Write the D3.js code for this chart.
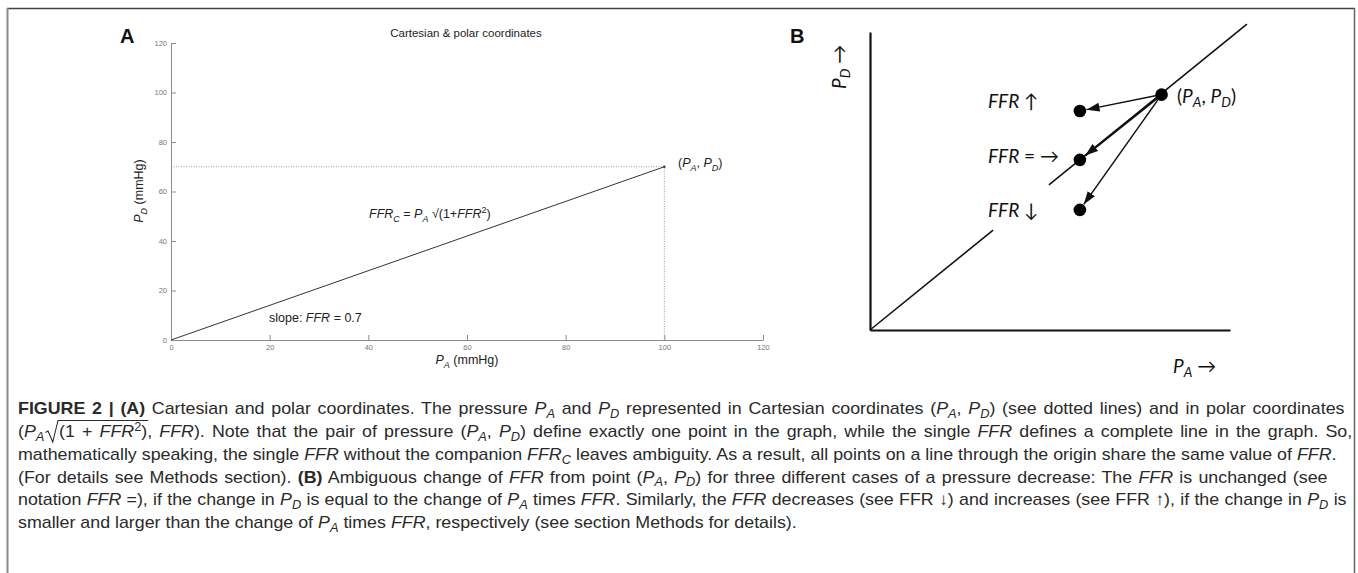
<!DOCTYPE html>
<html>
<head>
<meta charset="utf-8">
<script src="https://cdn.jsdelivr.net/npm/d3@7"></script>
<style>
  body { margin: 0; background: #fff; }
  svg { display: block; }
  text { white-space: pre; }
</style>
</head>
<body>
<svg id="fig" width="1358" height="573"></svg>
<script>
// ---- Panel A: Cartesian & polar coordinates ----
const axisTicksA = [0, 20, 40, 60, 80, 100, 120];
const pressureA = 100;          // P_A (mmHg)
const ffrValue = 0.7;           // slope of the line through the origin

// ---- Panel B: schematic change of FFR (arbitrary units) ----
const bStart = { pa: 81, pd: 79 };                 // point (P_A, P_D)
const bCaseLabels = ["*FFR* ↑", "*FFR* = →", "*FFR* ↓"];
const bCasePa = [58.3, 58.3, 58.3];
const bCasePd = [73.5, 57.1, 40.3];
const bCaseWidth = [1.5, 2.2, 1.5];
const bIsoRatio = 0.98;                            // constant-FFR line
const bIsoSegments = [[0, 34.2], [49.7, 104.7]];   // drawn pieces of that line

// ---- Caption lines ----
const captionLines = [
  "**FIGURE 2 | (A)** Cartesian and polar coordinates. The pressure *P*_{A} and *P*_{D} represented in Cartesian coordinates (*P*_{A}, *P*_{D}) (see dotted lines) and in polar coordinates",
  "(*P*_{A}@(1 + *FFR*^{2})~, *FFR*). Note that the pair of pressure (*P*_{A}, *P*_{D}) define exactly one point in the graph, while the single *FFR* defines a complete line in the graph. So,",
  "mathematically speaking, the single *FFR* without the companion *FFR*_{C} leaves ambiguity. As a result, all points on a line through the origin share the same value of *FFR*.",
  "(For details see Methods section). **(B)** Ambiguous change of *FFR* from point (*P*_{A}, *P*_{D}) for three different cases of a pressure decrease: The *FFR* is unchanged (see",
  "notation *FFR* =), if the change in *P*_{D} is equal to the change of *P*_{A} times *FFR*. Similarly, the *FFR* decreases (see FFR ↓) and increases (see FFR ↑), if the change in *P*_{D} is",
  "smaller and larger than the change of *P*_{A} times *FFR*, respectively (see section Methods for details)."
];
const captionRightEdges = [1345, 1338, 1337, 1328, 1347, 797];

const svg = d3.select("#fig");
const SANS = "'Liberation Sans', Arial, sans-serif";
const CAL = "Lato, 'Open Sans', sans-serif";

// Append a text element built from a small markup:
// **bold**, *italic*, _{sub}, ^{sup}, @ = radical start, ~ = radical end
function richText(parent, str, o) {
  const text = parent.append("text")
    .attr("font-family", o.family)
    .attr("font-size", o.size)
    .attr("fill", o.fill || "#222");
  const parts = str.split(/(\*\*[^*]+\*\*|\*[^*]+\*|_\{[^}]+\}|\^\{[^}]+\}|@|~)/).filter(p => p !== "");
  let shift = 0, count = 0, pendingDx = 0, radStart = null, radEnd = null, spaces = 0;
  parts.forEach(p => {
    if (p === "@") { radStart = count; pendingDx = o.radGap || 0; return; }
    if (p === "~") { radEnd = count - 1; return; }
    const s = { t: p, b: false, i: false, lvl: 0 };
    if (p.startsWith("**")) { s.t = p.slice(2, -2); s.b = true; }
    else if (p.startsWith("*")) { s.t = p.slice(1, -1); s.i = true; }
    else if (p.startsWith("_{")) { s.t = p.slice(2, -1); s.i = true; s.lvl = 1; }
    else if (p.startsWith("^{")) { s.t = p.slice(2, -1); s.lvl = -1; }
    const ts = text.append("tspan").text(s.t);
    if (s.b) ts.attr("font-weight", "bold");
    if (s.i) ts.attr("font-style", "italic");
    const target = s.lvl === 1 ? o.subDy : s.lvl === -1 ? -o.supDy : 0;
    if (target !== shift) ts.attr("dy", target - shift);
    shift = target;
    if (s.lvl !== 0) ts.attr("font-size", o.size * 0.72);
    if (pendingDx) { ts.attr("dx", pendingDx); pendingDx = 0; }
    count += s.t.length;
    spaces += (s.t.match(/ /g) || []).length;
  });
  return { text, radStart, radEnd, spaces };
}

// ---- Frame ----
svg.append("line").attr("x1", 7).attr("x2", 1355).attr("y1", 8.5).attr("y2", 8.5)
  .attr("stroke", "#444").attr("stroke-width", 1.3);
svg.append("line").attr("x1", 7.5).attr("x2", 7.5).attr("y1", 8).attr("y2", 573)
  .attr("stroke", "#8a8a8a").attr("stroke-width", 2);
svg.append("line").attr("x1", 1354.5).attr("x2", 1354.5).attr("y1", 8).attr("y2", 573)
  .attr("stroke", "#666").attr("stroke-width", 1.5);

// ================= Panel A =================
const xA = d3.scaleLinear().domain([0, 120]).range([171, 763]);
const yA = d3.scaleLinear().domain([0, 120]).range([340, 43]);
const gA = svg.append("g");

const styleAxis = g => {
  g.attr("font-family", SANS).attr("font-size", 7.5);
  g.select(".domain").attr("stroke", "#8c8c8c");
  g.selectAll(".tick line").attr("stroke", "#8c8c8c");
  g.selectAll(".tick text").attr("fill", "#777");
};
gA.append("g").attr("transform", `translate(0,${yA(0)})`)
  .call(d3.axisBottom(xA).tickValues(axisTicksA).tickSizeInner(-5).tickSizeOuter(0).tickPadding(5))
  .call(styleAxis);
gA.append("g").attr("transform", `translate(${xA(0)},0)`)
  .call(d3.axisLeft(yA).tickValues(axisTicksA).tickSizeInner(-5).tickSizeOuter(0).tickPadding(4))
  .call(styleAxis);

const pressureD = ffrValue * pressureA;
// dotted Cartesian guides
gA.append("path")
  .attr("d", `M${xA(0)},${yA(pressureD)}H${xA(pressureA)}V${yA(0)}`)
  .attr("fill", "none").attr("stroke", "#999").attr("stroke-width", 1)
  .attr("stroke-dasharray", "1,1.5");
// line through origin with slope FFR
gA.append("path")
  .datum([[0, 0], [pressureA, pressureD]])
  .attr("d", d3.line().x(d => xA(d[0])).y(d => yA(d[1])))
  .attr("fill", "none").attr("stroke", "#333").attr("stroke-width", 1);
gA.append("circle").attr("cx", xA(pressureA)).attr("cy", yA(pressureD)).attr("r", 1.2).attr("fill", "#333");

gA.append("text").attr("x", 120).attr("y", 43).attr("font-family", SANS)
  .attr("font-weight", "bold").attr("font-size", 20).attr("fill", "#111").text("A");
gA.append("text").attr("x", 466).attr("y", 37).attr("text-anchor", "middle")
  .attr("font-family", SANS).attr("font-size", 11.5).attr("fill", "#222")
  .text("Cartesian & polar coordinates");

const aOpts = { family: SANS, size: 12.5, subDy: 4, supDy: 5, fill: "#222" };
richText(gA, "*P*_{A} (mmHg)", aOpts).text
  .attr("x", 467).attr("y", 364).attr("text-anchor", "middle");
richText(gA, "*P*_{D} (mmHg)", aOpts).text
  .attr("text-anchor", "middle").attr("transform", "translate(143,191) rotate(-90)");
richText(gA, "(*P*_{A}, *P*_{D})", aOpts).text.attr("x", 678).attr("y", 167);
richText(gA, "*FFR*_{C} = *P*_{A} √(1+*FFR*^{2})", aOpts).text.attr("x", 369).attr("y", 218);
richText(gA, `slope: *FFR* = ${ffrValue}`, aOpts).text.attr("x", 269).attr("y", 322);

// ================= Panel B =================
const xB = d3.scaleLinear().domain([0, 100]).range([870, 1230]);
const yB = d3.scaleLinear().domain([0, 100]).range([330, 32]);
const gB = svg.append("g");

gB.append("g").attr("transform", `translate(0,${yB(0)})`)
  .call(d3.axisBottom(xB).ticks(0).tickSizeOuter(0))
  .call(g => g.select(".domain").attr("stroke", "#111").attr("stroke-width", 2.2));
gB.append("g").attr("transform", `translate(${xB(0)},0)`)
  .call(d3.axisLeft(yB).ticks(0).tickSizeOuter(0))
  .call(g => g.select(".domain").attr("stroke", "#111").attr("stroke-width", 2.2));

// constant-FFR line through the origin
const isoLine = d3.line().x(d => xB(d)).y(d => yB(d * bIsoRatio));
gB.selectAll("path.iso").data(bIsoSegments).join("path").attr("class", "iso")
  .attr("d", d => isoLine(d)).attr("fill", "none")
  .attr("stroke", "#111").attr("stroke-width", 1.6);

// arrowhead
svg.append("defs").append("marker")
  .attr("id", "head").attr("markerUnits", "userSpaceOnUse")
  .attr("markerWidth", 14).attr("markerHeight", 10)
  .attr("refX", 13).attr("refY", 4.5).attr("orient", "auto")
  .append("path").attr("d", "M0,0L13,4.5L0,9Z").attr("fill", "#111");

const dotR = 6.3;
const sx = xB(bStart.pa), sy = yB(bStart.pd);
bCasePa.forEach((pa, i) => {
  const tx = xB(pa), ty = yB(bCasePd[i]);
  const dx = tx - sx, dy = ty - sy, len = Math.hypot(dx, dy);
  const ex = tx - dx / len * (dotR + 0.5), ey = ty - dy / len * (dotR + 0.5);
  gB.append("line").attr("x1", sx).attr("y1", sy).attr("x2", ex).attr("y2", ey)
    .attr("stroke", "#111").attr("stroke-width", bCaseWidth[i])
    .attr("marker-end", "url(#head)");
});
gB.selectAll("circle.pt").data([[bStart.pa, bStart.pd]].concat(bCasePa.map((p, i) => [p, bCasePd[i]])))
  .join("circle").attr("class", "pt")
  .attr("cx", d => xB(d[0])).attr("cy", d => yB(d[1])).attr("r", dotR).attr("fill", "#000");

const bOpts = { family: CAL, size: 19, subDy: 4, supDy: 6, fill: "#111" };
const caseBaselines = [108, 163, 217];
bCaseLabels.forEach((lab, i) => {
  richText(gB, lab, bOpts).text.attr("x", 988).attr("y", caseBaselines[i]);
});
richText(gB, "(*P*_{A}, *P*_{D})", bOpts).text.attr("x", 1177).attr("y", 103);
richText(gB, "*P*_{A} →", bOpts).text.attr("x", 1173).attr("y", 373);
richText(gB, "*P*_{D} →", bOpts).text.attr("transform", "translate(846,89) rotate(-90)");
gB.append("text").attr("x", 790).attr("y", 43).attr("font-family", SANS)
  .attr("font-weight", "bold").attr("font-size", 20).attr("fill", "#111").text("B");

// ================= Caption =================
// Condensed look: one horizontal squeeze for all lines (set by the last,
// unjustified line); the other lines are justified with word spacing.
const capBaselines = [414, 437, 460, 482.5, 505, 528];
const capOpts = { family: SANS, size: 17, subDy: 3.5, supDy: 6, fill: "#2a2a2a", radGap: 14 };
const capLeft = 18;
const capRows = captionLines.map((line, i) => {
  const g = svg.append("g");
  const r = richText(g, line, capOpts);
  r.g = g;
  r.w = r.text.node().getComputedTextLength();
  return r;
});
const last = capRows.length - 1;
const squeeze = (captionRightEdges[last] - capLeft) / capRows[last].w;
capRows.forEach((r, i) => {
  const target = captionRightEdges[i] - capLeft;
  let sX = squeeze;
  if (i < last) {
    const extra = target / squeeze - r.w;
    if (extra > 0) r.text.style("word-spacing", `${extra / r.spaces}px`);
    else sX = target / r.w;
  }
  r.g.attr("transform", `translate(${capLeft},${capBaselines[i]}) scale(${sX},1)`);
  if (r.radStart !== null) {
    const node = r.text.node();
    const x0 = node.getStartPositionOfChar(r.radStart).x;
    const x1 = node.getEndPositionOfChar(r.radEnd).x;
    const rx = x0 - 13;
    r.g.append("path")
      .attr("d", `M${rx},-4.5L${rx + 2.5},-6L${rx + 7},5L${rx + 12},-16.5H${x1 + 1}`)
      .attr("fill", "none").attr("stroke", "#2a2a2a").attr("stroke-width", 1);
  }
});
</script>
</body>
</html>
